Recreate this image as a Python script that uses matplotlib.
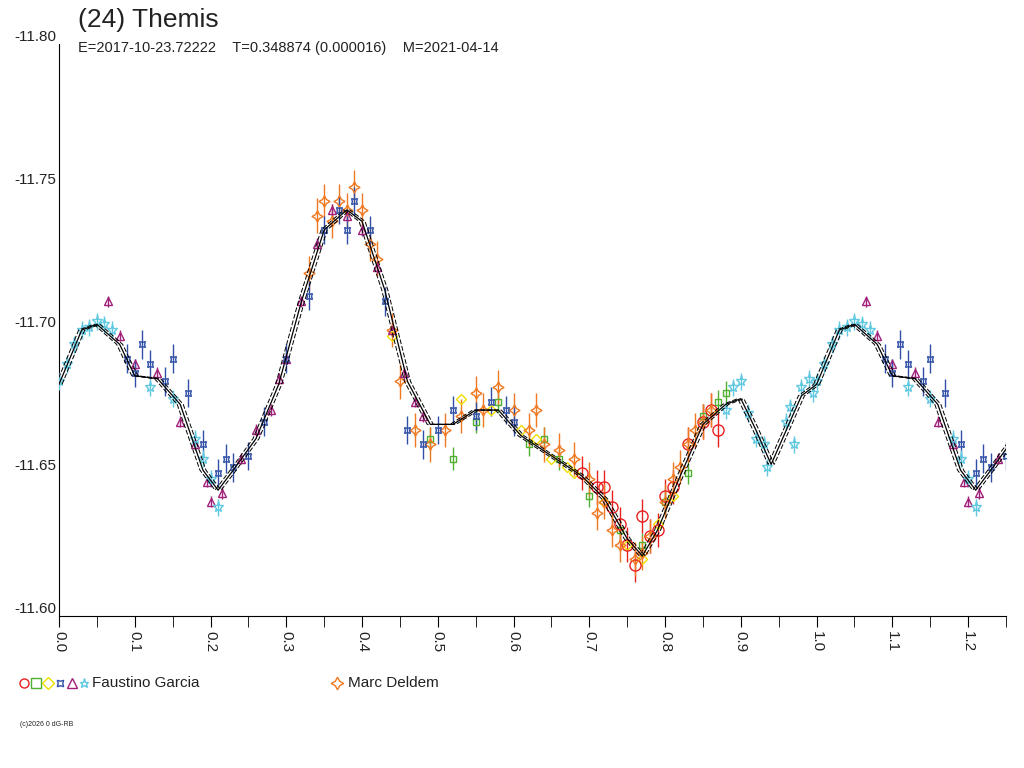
import matplotlib.pyplot as plt

plt.rcParams['font.family'] = ['Liberation Sans', 'DejaVu Sans']

# model curve (phase, mag), one period
model_ph = [0.0, 0.03, 0.05, 0.08, 0.10, 0.13, 0.16, 0.19, 0.21, 0.23, 0.26, 0.29, 0.32, 0.35,
            0.38, 0.40, 0.43, 0.46, 0.49, 0.52, 0.55, 0.58, 0.61, 0.65, 0.69, 0.72, 0.75, 0.77,
            0.79, 0.82, 0.85, 0.88, 0.90, 0.92, 0.94, 0.96, 0.98, 1.0]
model_mag = [-11.681, -11.700, -11.702, -11.695, -11.684, -11.683, -11.674, -11.651, -11.644,
             -11.651, -11.662, -11.681, -11.710, -11.735, -11.742, -11.738, -11.714, -11.682,
             -11.667, -11.667, -11.672, -11.672, -11.663, -11.656, -11.649, -11.641, -11.627,
             -11.621, -11.630, -11.649, -11.667, -11.674, -11.676, -11.665, -11.653, -11.665,
             -11.677, -11.681]

cyan_ph = [0.0, 0.01, 0.02, 0.03, 0.04, 0.05, 0.06, 0.07, 0.12, 0.15, 0.18, 0.19, 0.20, 0.21,
           0.88, 0.89, 0.90, 0.91, 0.92, 0.93, 0.935, 0.96, 0.965, 0.97, 0.98, 0.99, 0.995]
cyan_mag = [-11.682, -11.688, -11.695, -11.700, -11.701, -11.703, -11.702, -11.700, -11.680,
            -11.676, -11.662, -11.655, -11.648, -11.638, -11.672, -11.680, -11.682, -11.671,
            -11.662, -11.660, -11.652, -11.668, -11.673, -11.660, -11.680, -11.683, -11.678]

tri_ph = [0.065, 0.08, 0.10, 0.13, 0.16, 0.18, 0.195, 0.20, 0.215, 0.24, 0.26, 0.28, 0.29, 0.30,
          0.32, 0.34, 0.36, 0.38, 0.40, 0.42, 0.44, 0.455, 0.47, 0.48]
tri_mag = [-11.710, -11.698, -11.688, -11.685, -11.668, -11.660, -11.647, -11.640, -11.643,
           -11.655, -11.665, -11.672, -11.683, -11.690, -11.710, -11.730, -11.742, -11.740,
           -11.735, -11.722, -11.700, -11.685, -11.675, -11.670]

blue_ph = [0.09, 0.10, 0.11, 0.12, 0.14, 0.15, 0.17, 0.19, 0.21, 0.22, 0.23, 0.25, 0.27, 0.30,
           0.33, 0.35, 0.37, 0.38, 0.39, 0.41, 0.43, 0.46, 0.48, 0.50, 0.52, 0.55, 0.57, 0.59, 0.60]
blue_mag = [-11.690, -11.685, -11.695, -11.688, -11.682, -11.690, -11.678, -11.660, -11.650,
            -11.655, -11.652, -11.656, -11.668, -11.690, -11.712, -11.735, -11.742, -11.735,
            -11.745, -11.735, -11.710, -11.665, -11.660, -11.665, -11.672, -11.670, -11.675,
            -11.672, -11.668]

orange_ph = [0.33, 0.34, 0.35, 0.36, 0.37, 0.38, 0.39, 0.40, 0.41, 0.42, 0.44, 0.45, 0.47, 0.49,
             0.51, 0.53, 0.55, 0.56, 0.58, 0.60, 0.62, 0.63, 0.64, 0.66, 0.68, 0.70, 0.71, 0.72,
             0.73, 0.74, 0.76, 0.77, 0.78, 0.80, 0.81, 0.82, 0.83, 0.84, 0.85, 0.86]
orange_mag = [-11.720, -11.740, -11.745, -11.738, -11.745, -11.742, -11.750, -11.742, -11.730,
              -11.725, -11.700, -11.682, -11.665, -11.660, -11.665, -11.670, -11.678, -11.672,
              -11.680, -11.672, -11.665, -11.672, -11.660, -11.658, -11.655, -11.648, -11.636,
              -11.640, -11.630, -11.625, -11.620, -11.622, -11.628, -11.640, -11.648, -11.652,
              -11.660, -11.665, -11.668, -11.672]

red_ph = [0.69, 0.71, 0.72, 0.73, 0.74, 0.75, 0.76, 0.77, 0.78, 0.79, 0.80, 0.81, 0.83, 0.85,
          0.86, 0.87]
red_mag = [-11.650, -11.645, -11.645, -11.638, -11.632, -11.625, -11.618, -11.635, -11.628,
           -11.630, -11.642, -11.645, -11.660, -11.668, -11.672, -11.665]

green_ph = [0.49, 0.52, 0.55, 0.58, 0.62, 0.64, 0.66, 0.70, 0.74, 0.77, 0.80, 0.83, 0.85, 0.87, 0.88]
green_mag = [-11.662, -11.655, -11.668, -11.675, -11.660, -11.662, -11.655, -11.642, -11.630,
             -11.625, -11.640, -11.650, -11.670, -11.675, -11.678]

yellow_ph = [0.44, 0.53, 0.57, 0.61, 0.63, 0.65, 0.67, 0.68, 0.72, 0.75, 0.77, 0.79, 0.81]
yellow_mag = [-11.698, -11.676, -11.672, -11.665, -11.662, -11.655, -11.652, -11.650, -11.640,
              -11.625, -11.620, -11.632, -11.642]

# (phase, mag, colour, marker, size, error)
series = [
    (green_ph, green_mag, '#50b030', 's', 5, 0.004),
    (yellow_ph, yellow_mag, '#f0e000', 'D', 5, 0.0),
    (red_ph, red_mag, '#e82020', 'o', 8, 0.006),
    (orange_ph, orange_mag, '#f07820', (4, 1, 0), 8, 0.006),
    (tri_ph, tri_mag, '#a0207a', '^', 6, 0.002),
    (blue_ph, blue_mag, '#3050a8', (4, 1, 45), 6, 0.005),
    (cyan_ph, cyan_mag, '#60c8e0', '*', 8, 0.003),
]

fig = plt.figure(figsize=(10.24, 7.68), dpi=100)
ax = fig.add_axes([59 / 1024, 152 / 768, 947 / 1024, 572 / 768])

for dph in (0.0, 1.0):
    xs = [p + dph for p in model_ph]
    ax.plot(xs, model_mag, color='black', lw=0.9, zorder=5)
    ax.plot([x + 0.004 for x in xs], model_mag, color='black', lw=0.7, ls=(0, (5, 2)), zorder=5)
    ax.plot([x - 0.004 for x in xs], model_mag, color='black', lw=0.7, ls=(0, (5, 2)), zorder=5)

for ph, mag, col, mk, ms, err in series:
    for dph in (0.0, 1.0):
        xs = [p + dph for p in ph if p + dph <= 1.25]
        ys = [m for p, m in zip(ph, mag) if p + dph <= 1.25]
        ax.errorbar(xs, ys, yerr=err if err else None, fmt='none', ecolor=col, elinewidth=1, zorder=3)
        ax.plot(xs, ys, ls='none', marker=mk, ms=ms, mfc='none', mec=col, mew=1, zorder=4)

ax.set_xlim(0, 1.25)
ax.set_ylim(-11.60, -11.80)
ax.spines['top'].set_visible(False)
ax.spines['right'].set_visible(False)
ax.set_xticks([i / 10 for i in range(13)])
ax.set_xticklabels(['%.1f' % (i / 10) for i in range(13)], rotation=270, fontsize=11, color='#222222')
ax.set_xticks([0.05 + i / 10 for i in range(13)], minor=True)
ax.tick_params(axis='x', which='both', direction='out', length=8, pad=3)
ax.set_yticks([-11.80, -11.75, -11.70, -11.65, -11.60])
ax.set_yticklabels(['-11.80', '-11.75', '-11.70', '-11.65', '-11.60'], fontsize=11, color='#222222',
                   va='bottom')
ax.tick_params(axis='y', direction='out', length=0, pad=2)

fig.text(78 / 1024, 1 - 20 / 768, '(24) Themis', fontsize=19, va='center', color='#222222')
fig.text(78 / 1024, 1 - 48 / 768,
         'E=2017-10-23.72222    T=0.348874 (0.000016)    M=2021-04-14', fontsize=10.5, va='center',
         color='#222222')

# legend row
leg = [('#e82020', 'o'), ('#50b030', 's'), ('#f0e000', 'D'), ('#3050a8', (4, 1, 45)),
       ('#a0207a', '^'), ('#60c8e0', '*')]
for i, (col, mk) in enumerate(leg):
    fig.lines.append(plt.Line2D([(24 + 12 * i) / 1024], [1 - 683 / 768], transform=fig.transFigure,
                                marker=mk, ms=6.5, mfc='none', mec=col, ls='none'))
fig.text(92 / 1024, 1 - 683 / 768, 'Faustino Garcia', fontsize=11, va='center', color='#222222')
fig.lines.append(plt.Line2D([337 / 1024], [1 - 683 / 768], transform=fig.transFigure,
                            marker=(4, 1, 0), ms=9, mfc='none', mec='#f07820', ls='none'))
fig.text(348 / 1024, 1 - 683 / 768, 'Marc Deldem', fontsize=11, va='center', color='#222222')
fig.text(20 / 1024, 1 - 725 / 768, '(c)2026 0 dG-RB', fontsize=5, va='center', color='#222222')

fig.savefig('out.png', dpi=100)
